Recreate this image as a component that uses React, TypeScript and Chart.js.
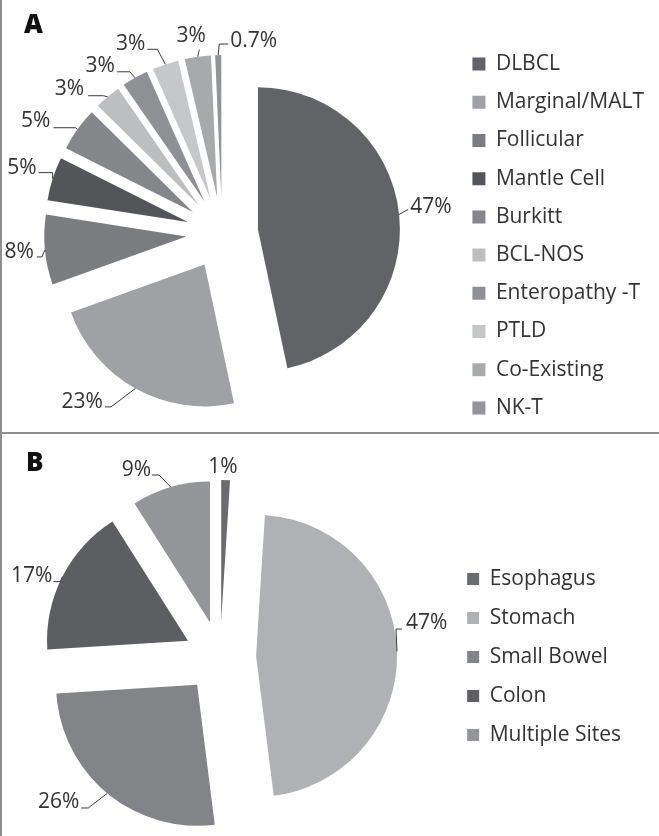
import React, { useEffect, useRef } from 'react';
import { Chart, PieController, ArcElement, registerables } from 'chart.js';

Chart.register(...registerables);

// ---------------- data ----------------
const TYPE_LABELS = ['DLBCL', 'Marginal/MALT', 'Follicular', 'Mantle Cell', 'Burkitt', 'BCL-NOS', 'Enteropathy -T', 'PTLD', 'Co-Existing', 'NK-T'];
const TYPE_VALUES = [47, 23, 8, 5, 5, 3, 3, 3, 3, 0.7];
const TYPE_COLORS = ['#626366', '#a0a1a4', '#7b7c7f', '#545558', '#85868a', '#bdbec0', '#8f9093', '#c6c7c9', '#a8a9ab', '#939497'];

const SITE_LABELS = ['Esophagus', 'Stomach', 'Small Bowel', 'Colon', 'Multiple Sites'];
const SITE_VALUES = [1, 47, 26, 17, 9];
const SITE_COLORS = ['#6a6b6e', '#b0b1b4', '#838488', '#5d5e61', '#949598'];

// label leader placement relative to each slice's outer mid-point
type Place = { ex: number; ey: number; tail: number; dx: number; dy: number; align: CanvasTextAlign; line?: boolean };
const TYPE_PLACES: Place[] = [
  { ex: 9, ey: -5, tail: 0, dx: 2, dy: 4, align: 'left' },
  { ex: -24.5, ey: 18.4, tail: -6, dx: -2, dy: 1, align: 'right' },
  { ex: -3, ey: 7, tail: -5, dx: -3, dy: 1, align: 'right' },
  { ex: 0, ey: -6, tail: -14, dx: -2, dy: 1, align: 'right' },
  { ex: -2, ey: -1.5, tail: -22, dx: -3, dy: -1, align: 'right' },
  { ex: -4.5, ey: -1, tail: -15, dx: -4, dy: -1, align: 'right' },
  { ex: -5, ey: -6, tail: -13, dx: -2, dy: 0, align: 'right' },
  { ex: -8, ey: -15, tail: -10, dx: -2, dy: 1, align: 'right' },
  { ex: 1.5, ey: -7, tail: 0, dx: -8, dy: -8, align: 'center' },
  { ex: 1, ey: -11, tail: 9, dx: 2, dy: 3, align: 'left' },
];
const SITE_PLACES: Place[] = [
  { ex: 0, ey: 0, tail: 0, dx: -2.6, dy: -7, align: 'center', line: false },
  { ex: -1, ey: -22.4, tail: 6, dx: 4, dy: 0, align: 'left' },
  { ex: -19, ey: 14.6, tail: -7, dx: -2, dy: 0, align: 'right' },
  { ex: -2, ey: 5, tail: -7, dx: -1, dy: 0, align: 'right' },
  { ex: -11.6, ey: -12, tail: -7, dx: -1, dy: 1, align: 'right' },
];

const EXPLODE = 36;
const FONT_FAMILY = '"Open Sans"';
const FONT_SIZE = 21;
const TEXT_COLOR = '#333333';

// ---------------- exploded pie element / controller ----------------
class ExplodedArc extends ArcElement {
  static id = 'explodedArc';
  draw(ctx: CanvasRenderingContext2D) {
    const a: any = this;
    const { x, y, startAngle, endAngle, outerRadius } = a;
    const mid = (startAngle + endAngle) / 2;
    const cx = x + Math.cos(mid) * EXPLODE;
    const cy = y + Math.sin(mid) * EXPLODE;
    ctx.save();
    ctx.beginPath();
    ctx.moveTo(cx, cy);
    ctx.arc(cx, cy, outerRadius, startAngle, endAngle);
    ctx.closePath();
    ctx.fillStyle = a.options.backgroundColor;
    ctx.fill();
    ctx.restore();
  }
}

class ExplodedPieController extends PieController {
  static id = 'explodedPie';
  static defaults = { dataElementType: 'explodedArc' };
}

Chart.register(ExplodedArc as any, ExplodedPieController as any);

const sliceLabels = {
  id: 'sliceLabels',
  afterDatasetsDraw(chart: any, _args: any, opts: any) {
    const meta = chart.getDatasetMeta(0);
    const values = chart.data.datasets[0].data;
    const ctx: CanvasRenderingContext2D = chart.ctx;
    ctx.save();
    ctx.font = `${FONT_SIZE}px ${FONT_FAMILY}`;
    ctx.fillStyle = TEXT_COLOR;
    ctx.strokeStyle = '#3a3a3a';
    ctx.lineWidth = 1;
    meta.data.forEach((arc: any, i: number) => {
      const p: Place = opts.places[i];
      const mid = (arc.startAngle + arc.endAngle) / 2;
      const R = arc.outerRadius + EXPLODE;
      const ax = arc.x + Math.cos(mid) * R;
      const ay = arc.y + Math.sin(mid) * R;
      const ex = ax + p.ex;
      const ey = ay + p.ey;
      const tx = ex + p.tail;
      if (p.line !== false) {
        ctx.beginPath();
        ctx.moveTo(ax, ay);
        ctx.lineTo(ex, ey);
        ctx.lineTo(tx, ey);
        ctx.stroke();
      }
      ctx.textAlign = p.align;
      ctx.textBaseline = 'alphabetic';
      ctx.fillText(`${values[i]}%`, tx + p.dx, ey + p.dy);
    });
    ctx.restore();
  },
};

function measureMax(labels: string[]) {
  const c = document.createElement('canvas').getContext('2d')!;
  c.font = `${FONT_SIZE}px ${FONT_FAMILY}`;
  return Math.max(...labels.map((l) => c.measureText(l).width));
}

type PanelProps = {
  labels: string[];
  values: number[];
  colors: string[];
  places: Place[];
  left: number;
  top: number;
  height: number;
  radius: number;
  padTop: number;
  boxX: number;
  boxSize: number;
  legendPad: number;
  titleShift: number;
};

function PiePanel(props: PanelProps) {
  const ref = useRef<HTMLCanvasElement>(null);
  const tw = measureMax(props.labels);
  const width = Math.round(props.boxX - props.left + props.boxSize + FONT_SIZE / 2 + tw + 10);
  useEffect(() => {
    const chart = new Chart(ref.current!, {
      type: 'explodedPie' as any,
      data: {
        labels: props.labels,
        datasets: [{ data: props.values, backgroundColor: props.colors, borderWidth: 0 }],
      },
      options: {
        animation: false,
        responsive: false,
        maintainAspectRatio: false,
        radius: props.radius,
        layout: { padding: { top: props.padTop, left: 0, right: 0, bottom: 0 } },
        plugins: {
          tooltip: { enabled: false },
          legend: {
            display: true,
            position: 'right',
            title: { display: props.titleShift > 0, text: ' ', font: { size: props.titleShift / 1.2 }, padding: 0 },
            labels: {
              boxWidth: props.boxSize,
              boxHeight: props.boxSize,
              padding: props.legendPad,
              color: TEXT_COLOR,
              font: { family: FONT_FAMILY, size: FONT_SIZE },
            },
          },
          sliceLabels: { places: props.places },
        } as any,
      } as any,
      plugins: [sliceLabels],
    });
    return () => chart.destroy();
  }, []);
  return (
    <canvas
      ref={ref}
      width={width}
      height={props.height}
      style={{ position: 'absolute', left: props.left, top: props.top, width, height: props.height }}
    />
  );
}

export default function App() {
  return (
    <div style={{ position: 'absolute', left: 0, top: 0, width: 659, height: 836, overflow: 'hidden', background: '#fff' }}>
      <PiePanel
        labels={TYPE_LABELS}
        values={TYPE_VALUES}
        colors={TYPE_COLORS}
        places={TYPE_PLACES}
        left={-11}
        top={0}
        height={440}
        radius={142}
        padTop={26}
        boxX={472}
        boxSize={13}
        legendPad={17.2}
        titleShift={6}
      />
      <PiePanel
        labels={SITE_LABELS}
        values={SITE_VALUES}
        colors={SITE_COLORS}
        places={SITE_PLACES}
        left={-9}
        top={434}
        height={402}
        radius={141}
        padTop={44}
        boxX={467}
        boxSize={12}
        legendPad={18}
        titleShift={0}
      />
      <div style={{ position: 'absolute', left: 24, top: 10, font: `800 26px ${FONT_FAMILY}`, lineHeight: '26px', color: '#111' }}>A</div>
      <div style={{ position: 'absolute', left: 26, top: 448, font: `800 26px ${FONT_FAMILY}`, lineHeight: '26px', color: '#111' }}>B</div>
      <div style={{ position: 'absolute', left: 0, top: 0, width: 2, height: 836, background: '#8e8e8e' }} />
      <div style={{ position: 'absolute', left: 0, top: 432, width: 659, height: 2, background: '#8e8e8e' }} />
    </div>
  );
}
